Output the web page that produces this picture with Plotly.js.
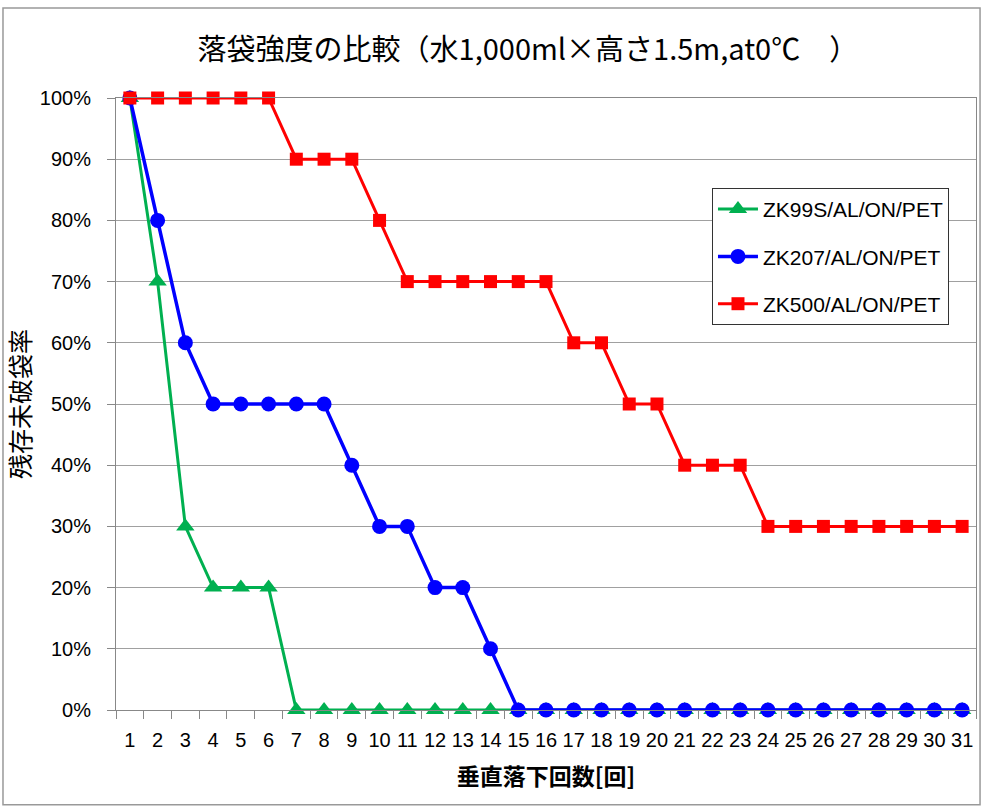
<!DOCTYPE html>
<html>
<head>
<meta charset="utf-8">
<script src="https://cdn.plot.ly/plotly-3.0.1.min.js"></script>
<style>body{margin:0;padding:0;background:#fff;} #chart{width:983px;height:807px;}</style>
</head>
<body>
<div id="chart"></div>
<script>
const categories = ["1","2","3","4","5","6","7","8","9","10","11","12","13","14","15","16","17","18","19","20","21","22","23","24","25","26","27","28","29","30","31"];
const seriesNames = ["ZK99S/AL/ON/PET", "ZK207/AL/ON/PET", "ZK500/AL/ON/PET"];
const zk99s = [1.0,0.7,0.3,0.2,0.2,0.2,0,0,0,0,0,0,0,0,0,0,0,0,0,0,0,0,0,0,0,0,0,0,0,0,0];
const zk207 = [1.0,0.8,0.6,0.5,0.5,0.5,0.5,0.5,0.4,0.3,0.3,0.2,0.2,0.1,0,0,0,0,0,0,0,0,0,0,0,0,0,0,0,0,0];
const zk500 = [1.0,1.0,1.0,1.0,1.0,1.0,0.9,0.9,0.9,0.8,0.7,0.7,0.7,0.7,0.7,0.7,0.6,0.6,0.5,0.5,0.4,0.4,0.4,0.3,0.3,0.3,0.3,0.3,0.3,0.3,0.3];

const titleText = "落袋強度の比較（水1,000ml×高さ1.5m,at0℃　）";
const xTitle = "垂直落下回数[回]";
const yTitle = "残存未破袋率";

const cjk = "'Noto Sans CJK JP', sans-serif";
const latin = "'Liberation Sans', Arial, sans-serif";

const traces = [
  {x: categories, y: zk99s, name: seriesNames[0], legendgroup: "a", type: "scatter", mode: "lines+markers",
   line: {color: "#00B050", width: 3}, marker: {symbol: "triangle-up", size: 16, color: "#00B050"}, cliponaxis: false},
  {x: categories, y: zk207, name: seriesNames[1], legendgroup: "b", type: "scatter", mode: "lines+markers",
   line: {color: "#0000FF", width: 3.5}, marker: {symbol: "circle", size: 15, color: "#0000FF"}, cliponaxis: false},
  {x: categories, y: zk500, name: seriesNames[2], legendgroup: "c", type: "scatter", mode: "lines+markers",
   line: {color: "#FF0000", width: 3}, marker: {symbol: "square", size: 13, color: "#FF0000"}, cliponaxis: false}
];

const layout = {
  width: 983, height: 807,
  margin: {l: 116, r: 7, t: 98, b: 97},
  paper_bgcolor: "#fff", plot_bgcolor: "#fff",
  title: {text: titleText, font: {family: cjk, size: 29, color: "#000"}, x: 0.537, xanchor: "center", y: 0.938, yanchor: "middle"},
  xaxis: {
    type: "category", range: [-0.5, 30.5], tickson: "boundaries", ticks: "outside", ticklen: 8, tickcolor: "#888",
    tickangle: 0, ticklabelstandoff: 12,
    showgrid: false, showline: true, linecolor: "#888", linewidth: 1, mirror: true,
    tickfont: {family: latin, size: 20, color: "#000"},
    title: {text: xTitle, font: {family: cjk, size: 23, color: "#000", weight: "bold"}, standoff: 18},
    fixedrange: true
  },
  yaxis: {
    range: [0, 1], dtick: 0.1, tickformat: ".0%", ticks: "outside", ticklen: 8, tickcolor: "#888",
    ticklabelstandoff: 12,
    showgrid: true, gridcolor: "#a0a0a0", gridwidth: 1, zeroline: false,
    showline: true, linecolor: "#888", linewidth: 1, mirror: true,
    tickfont: {family: latin, size: 20, color: "#000"},
    title: {text: yTitle, font: {family: cjk, size: 25, color: "#000"}, standoff: 2},
    fixedrange: true
  },
  legend: {
    x: 0.693, y: 0.853, xanchor: "left", yanchor: "top",
    bgcolor: "#fff", bordercolor: "#333", borderwidth: 1,
    font: {family: latin, size: 21, color: "#000"},
    tracegroupgap: 17, itemwidth: 40
  },
  showlegend: true,
  shapes: [
    {type: "rect", xref: "paper", yref: "paper", x0: -0.1314, x1: 1.0047, y0: -0.155, y1: 1.147,
     line: {color: "#999", width: 1.5}, fillcolor: "rgba(0,0,0,0)", layer: "below"}
  ]
};

Plotly.newPlot("chart", traces, layout, {displayModeBar: false, staticPlot: true});
</script>
</body>
</html>
